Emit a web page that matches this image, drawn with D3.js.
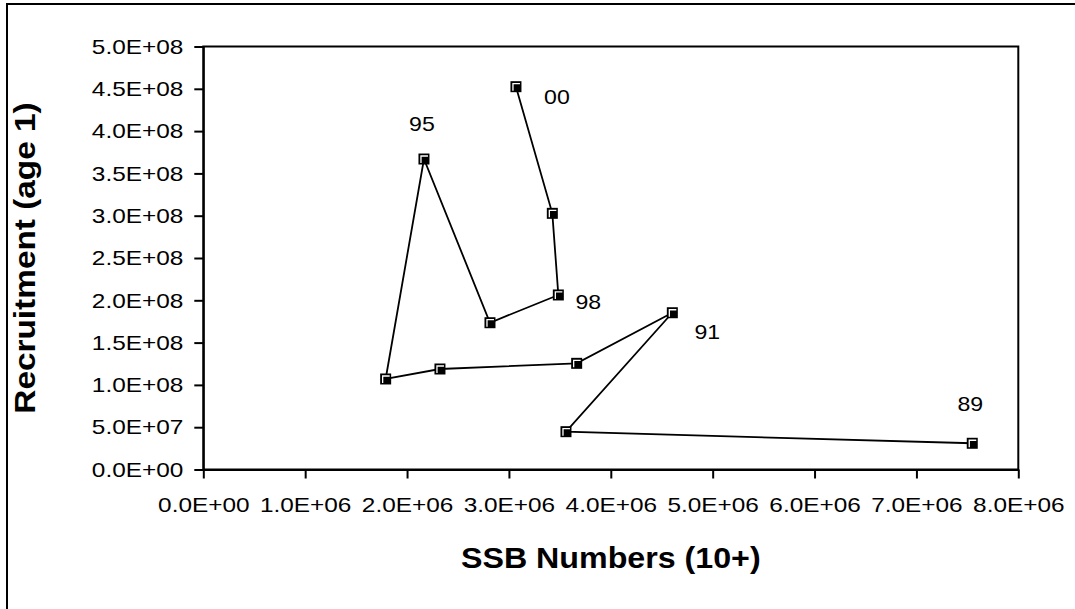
<!DOCTYPE html>
<html>
<head>
<meta charset="utf-8">
<script src="https://d3js.org/d3.v7.min.js"></script>
<style>
  body { margin: 0; background: #fff; }
  text { font-family: Arial, "Liberation Sans", sans-serif; fill: #000; }
</style>
</head>
<body>
<div id="my_dataviz"></div>
<script>
// data
var ssb = [7.548e6, 3.560e6, 4.604e6, 3.665e6, 2.323e6, 1.790e6, 2.166e6, 2.814e6, 3.485e6, 3.426e6, 3.069e6];
var recruit = [3.10e7, 4.47e7, 1.853e8, 1.255e8, 1.188e8, 1.070e8, 3.670e8, 1.735e8, 2.063e8, 3.028e8, 4.525e8];
// year labels and the point they belong to
var yearLabels = ["89", "91", "95", "98", "00"];
var labelPoint = [0, 2, 6, 8, 10];
var xTicks = [0, 1e6, 2e6, 3e6, 4e6, 5e6, 6e6, 7e6, 8e6];
var yTicks = [0, 5e7, 1e8, 1.5e8, 2e8, 2.5e8, 3e8, 3.5e8, 4e8, 4.5e8, 5e8];

// label offsets in pixels (styling)
var labelOffset = [[-2, -40], [35, 19], [-2, -35], [30, 7], [41, 10]];

var width = 1075, height = 609;
var plot = {left: 203.3, right: 1018.3, top: 46.5, bottom: 469.5};

var svg = d3.select("#my_dataviz")
  .append("svg")
    .attr("width", width)
    .attr("height", height);

// outer chart frame (left and top edges visible)
svg.append("path")
  .attr("d", "M7,609 V4 H1075")
  .attr("fill", "none")
  .attr("stroke", "#000")
  .attr("stroke-width", 2);

var x = d3.scaleLinear().domain([0, 8e6]).range([plot.left, plot.right]);
var y = d3.scaleLinear().domain([0, 5e8]).range([plot.bottom, plot.top]);

function sci(d) {
  if (d === 0) return "0.0E+00";
  var e = Math.floor(Math.log10(d) + 1e-9);
  var m = d / Math.pow(10, e);
  return m.toFixed(1) + "E+" + (e < 10 ? "0" + e : e);
}

// the original font runs wider than Liberation Sans, so widen the text
function stretch(sel, k) {
  sel.each(function() {
    var w = this.getComputedTextLength();
    d3.select(this)
      .attr("textLength", w * k)
      .attr("lengthAdjust", "spacingAndGlyphs");
  });
}

// plot area border
svg.append("rect")
  .attr("x", plot.left)
  .attr("y", plot.top)
  .attr("width", plot.right - plot.left)
  .attr("height", plot.bottom - plot.top)
  .attr("fill", "none")
  .attr("stroke", "#000")
  .attr("stroke-width", 2);

// X axis
var gx = svg.append("g")
  .attr("transform", "translate(0," + plot.bottom + ")")
  .call(d3.axisBottom(x).tickValues(xTicks).tickFormat(sci).tickSizeInner(9).tickSizeOuter(0).tickPadding(19));
gx.select(".domain").attr("stroke-width", 2);
gx.selectAll(".tick line").attr("stroke-width", 2);
gx.selectAll("text").style("font-size", "21px").attr("font-family", null).call(stretch, 1.16);

// Y axis
var gy = svg.append("g")
  .attr("transform", "translate(" + plot.left + ",0)")
  .call(d3.axisLeft(y).tickValues(yTicks).tickFormat(sci).tickSizeInner(9).tickSizeOuter(0).tickPadding(11));
gy.select(".domain").attr("stroke-width", 2);
gy.selectAll(".tick line").attr("stroke-width", 2);
gy.selectAll("text").style("font-size", "21px").attr("font-family", null).call(stretch, 1.16);

// axis titles
svg.append("text")
  .attr("text-anchor", "middle")
  .attr("x", (plot.left + plot.right) / 2)
  .attr("y", 568)
  .style("font-size", "29px")
  .style("font-weight", "bold")
  .text("SSB Numbers (10+)")
  .call(stretch, 1.11);

svg.append("text")
  .attr("text-anchor", "middle")
  .attr("transform", "translate(35," + (plot.top + plot.bottom) / 2 + ") rotate(-90)")
  .style("font-size", "29px")
  .style("font-weight", "bold")
  .text("Recruitment (age 1)")
  .call(stretch, 1.15);

// the line
var pts = ssb.map(function(d, i) { return [d, recruit[i]]; });
svg.append("path")
  .datum(pts)
  .attr("fill", "none")
  .attr("stroke", "#000")
  .attr("stroke-width", 1.8)
  .attr("d", d3.line()
    .x(function(d) { return x(d[0]); })
    .y(function(d) { return y(d[1]); }));

// square markers
var marks = svg.selectAll(".mark")
  .data(pts)
  .enter()
  .append("g")
    .attr("class", "mark")
    .attr("transform", function(d) { return "translate(" + x(d[0]) + "," + y(d[1]) + ")"; });
marks.append("rect")
  .attr("x", -5.5).attr("y", -5.5)
  .attr("width", 11).attr("height", 11)
  .attr("fill", "#000");
marks.append("path")
  .attr("d", "M-3,4 V-3 H4")
  .attr("fill", "none")
  .attr("stroke", "#fff")
  .attr("stroke-width", 1.3);

// year labels
svg.selectAll(".yr")
  .data(yearLabels)
  .enter()
  .append("text")
    .attr("class", "yr")
    .attr("text-anchor", "middle")
    .attr("dy", "0.35em")
    .attr("x", function(d, i) { return x(ssb[labelPoint[i]]) + labelOffset[i][0]; })
    .attr("y", function(d, i) { return y(recruit[labelPoint[i]]) + labelOffset[i][1]; })
    .style("font-size", "21px")
    .text(function(d) { return d; })
    .call(stretch, 1.1);
</script>
</body>
</html>
